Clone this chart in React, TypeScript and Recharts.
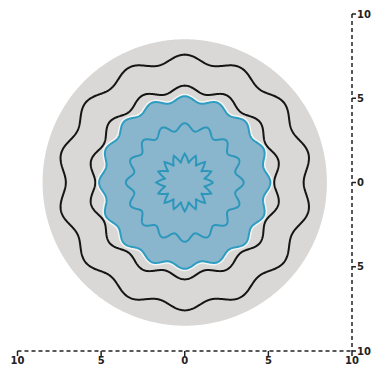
import React from 'react';
import { ScatterChart, Scatter, XAxis, YAxis } from 'recharts';

// ---- data ----
const axisTicks = [-10, -5, 0, 5, 10];
const xTickLabels = ['10', '5', '0', '5', '10'];
const yTickLabels = ['10', '5', '0', '5', '10'];

const discRadius = 8.5; // grey background disc

const ringNames = ['outerBlack', 'innerBlack', 'blueEdge', 'blueMid', 'blueStar'];
const ringRadius = [7.35, 5.55, 4.95, 3.3, 1.45];
const ringAmplitude = [0.24, 0.2, 0.17, 0.22, 0.26];
const ringLobes = [14, 14, 16, 16, 16];
const ringProfile = ['wave', 'wave', 'wave', 'wave', 'zigzag'];

// ---- geometry builders ----
const SAMPLES = 720;

function tri(p: number) {
  const u = (((p / (2 * Math.PI)) % 1) + 1) % 1;
  return 4 * Math.abs(u - 0.5) - 1;
}

function ring(radius: number, amp: number, lobes: number, profile: string) {
  const pts: { x: number; y: number }[] = [];
  for (let i = 0; i <= SAMPLES; i++) {
    const t = (i / SAMPLES) * 2 * Math.PI;
    const ph = lobes * (t - Math.PI / 2);
    const w = profile === 'zigzag' ? tri(ph) : Math.cos(ph);
    const r = radius + amp * w;
    pts.push({ x: r * Math.cos(t), y: r * Math.sin(t) });
  }
  return pts;
}

const discData = ring(discRadius, 0, 1, 'wave');
const rings: Record<string, { x: number; y: number }[]> = {};
ringNames.forEach((n, i) => {
  rings[n] = ring(ringRadius[i], ringAmplitude[i], ringLobes[i], ringProfile[i]);
});

const NoShape = () => <g />;

const tickFont = { fontFamily: 'DejaVu Sans, Verdana, sans-serif', fontSize: 10, fontWeight: 700, fill: '#222' };

export default function App() {
  return (
    <div style={{ position: 'absolute', left: 0, top: 0, background: '#fff' }}>
      <ScatterChart width={371} height={368} margin={{ top: 14, right: 0, bottom: 0, left: 17.5 }}>
        <XAxis
          type="number"
          dataKey="x"
          domain={[-10, 10]}
          ticks={axisTicks}
          height={17}
          axisLine={{ stroke: '#222', strokeWidth: 1.5, strokeDasharray: '4 3' }}
          tickLine={{ stroke: '#222', strokeWidth: 1.5 }}
          tickSize={5}
          tickMargin={1}
          tick={tickFont}
          tickFormatter={(_v: number, i: number) => xTickLabels[i]}
          interval={0}
        />
        <YAxis
          type="number"
          dataKey="y"
          orientation="right"
          domain={[-10, 10]}
          ticks={axisTicks}
          width={19}
          axisLine={{ stroke: '#222', strokeWidth: 1.5, strokeDasharray: '4 3' }}
          tickLine={{ stroke: '#222', strokeWidth: 1.5 }}
          tickSize={4}
          tickMargin={1}
          tick={tickFont}
          tickFormatter={(_v: number, i: number) => yTickLabels[axisTicks.length - 1 - i] ?? yTickLabels[i]}
          interval={0}
        />
        <Scatter data={discData} shape={NoShape} isAnimationActive={false}
          line={{ stroke: 'none', fill: '#dad8d6' }} />
        <Scatter data={rings.outerBlack} shape={NoShape} isAnimationActive={false}
          line={{ stroke: '#151515', strokeWidth: 2, fill: 'none' }} />
        <Scatter data={rings.innerBlack} shape={NoShape} isAnimationActive={false}
          line={{ stroke: '#151515', strokeWidth: 2, fill: 'none' }} />
        <Scatter data={rings.blueEdge} shape={NoShape} isAnimationActive={false}
          line={{ stroke: '#f4f4f2', strokeWidth: 5, fill: 'none' }} />
        <Scatter data={rings.blueEdge} shape={NoShape} isAnimationActive={false}
          line={{ stroke: '#2d9dc2', strokeWidth: 2, fill: '#8ab6cd' }} />
        <Scatter data={rings.blueMid} shape={NoShape} isAnimationActive={false}
          line={{ stroke: '#2d97bb', strokeWidth: 2, fill: 'none' }} />
        <Scatter data={rings.blueStar} shape={NoShape} isAnimationActive={false}
          line={{ stroke: '#2d97bb', strokeWidth: 2, fill: 'none' }} />
      </ScatterChart>
    </div>
  );
}
